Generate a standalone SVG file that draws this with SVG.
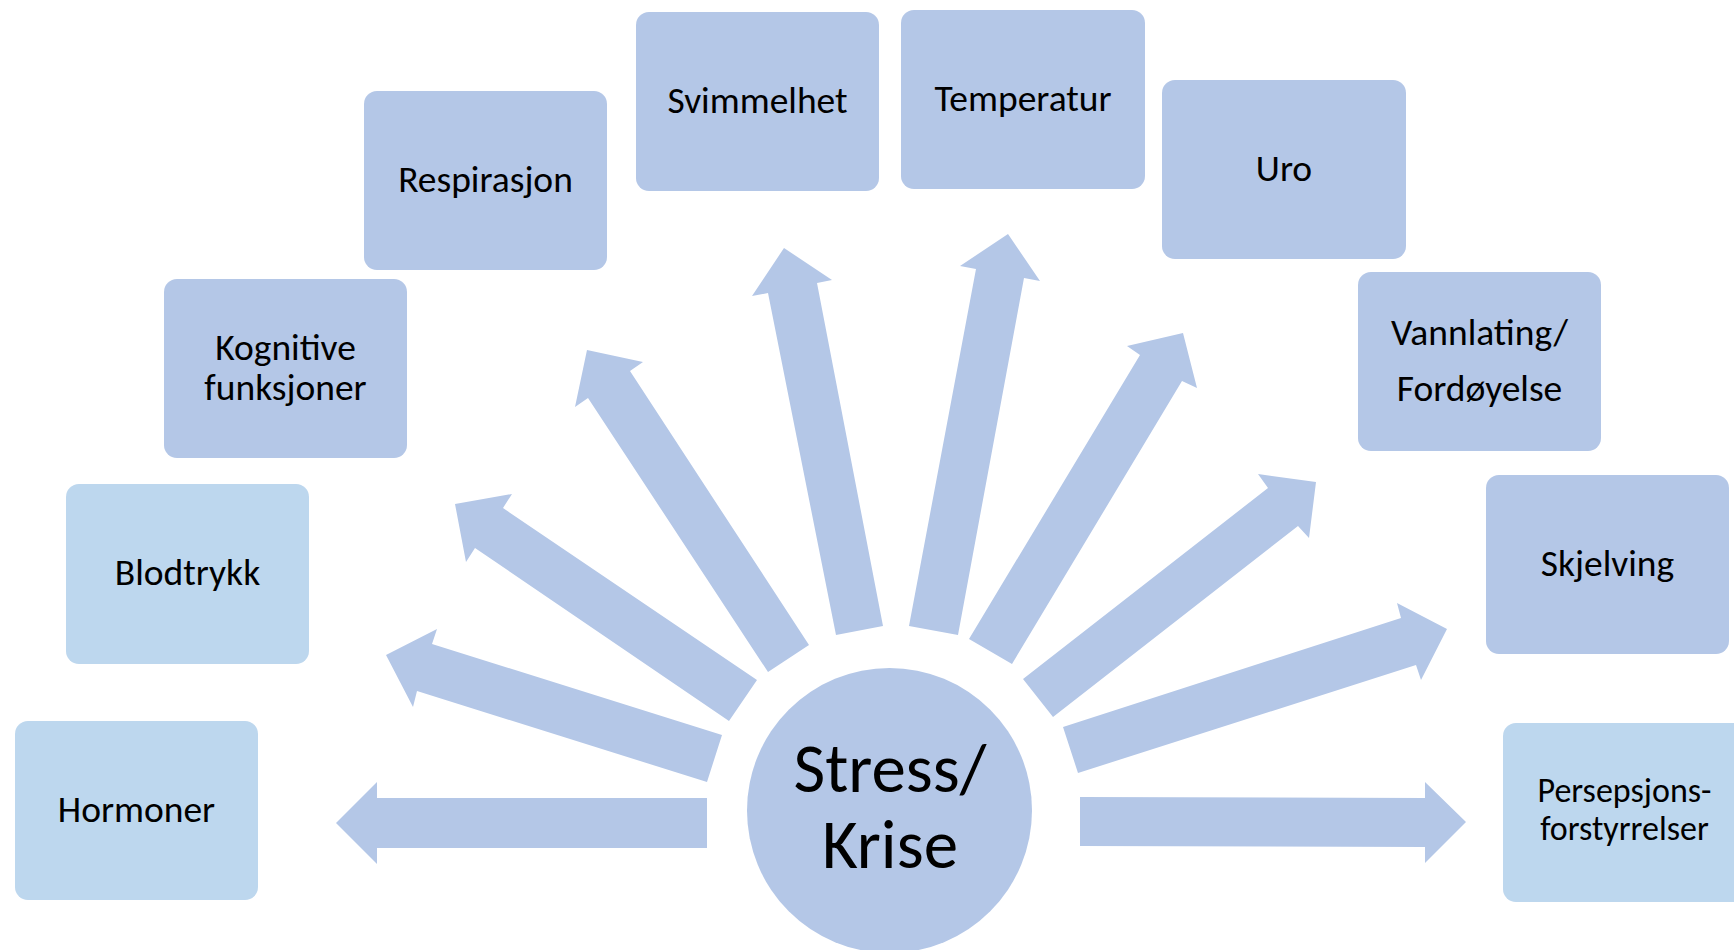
<svg xmlns="http://www.w3.org/2000/svg" width="1734" height="950" viewBox="0 0 1734 950">
<style>
  .dark { fill: #B4C7E7; }
  .light { fill: #BDD7EE; }
  .arrow { fill: #B4C7E7; }
  text { font-family: Carlito, Calibri, Lato, "Open Sans", sans-serif; fill: #000; text-anchor: middle; }
  .lbl { font-size: 37.5px; }
  .small { font-size: 34px; }
  .big { font-size: 69px; }
</style>
<rect width="1734" height="950" fill="#FFFFFF"/>
<g id="connectors">
  <polygon class="arrow" points="707,798 377,798 377,782 336,823 377,864 377,848 707,848"/>
  <polygon class="arrow" points="722,735 432,644 437,629 386,655 413,707 417,691 707,782"/>
  <polygon class="arrow" points="757,680 503,508 512,494 455,504 466,562 475,548 729,721"/>
  <polygon class="arrow" points="809,645 630,371 643,362 587,350 575,407 588,398 768,672"/>
  <polygon class="arrow" points="883,626 817,283 832,280 784,248 752,296 768,293 836,635"/>
  <polygon class="arrow" points="909,626 976,269 960,266 1008,234 1040,281 1024,278 958,635"/>
  <polygon class="arrow" points="969,639 1140,355 1127,346 1183,333 1197,388 1182,381 1012,664"/>
  <polygon class="arrow" points="1023,679 1268,488 1258,474 1316,482 1309,538 1298,526 1053,717"/>
  <polygon class="arrow" points="1063,727 1401,618 1397,603 1447,629 1421,680 1416,665 1078,773"/>
  <polygon class="arrow" points="1080,797 1425,798 1425,782 1466,822 1425,863 1425,847 1080,846"/>
</g>
<g id="center">
  <circle class="dark" cx="889.5" cy="810.5" r="142.5"/>
  <text class="big" x="890" y="792">Stress/</text>
  <text class="big" x="890" y="868">Krise</text>
</g>
<g id="hormoner">
  <rect class="light" x="15" y="721" width="243" height="179" rx="13"/>
  <text class="lbl" x="136.5" y="822">Hormoner</text>
</g>
<g id="blodtrykk">
  <rect class="light" x="66" y="484" width="243" height="180" rx="13"/>
  <text class="lbl" x="187.5" y="585">Blodtrykk</text>
</g>
<g id="kognitive">
  <rect class="dark" x="164" y="279" width="243" height="179" rx="13"/>
  <text class="lbl" x="285.5" y="360">Kognitive</text>
  <text class="lbl" x="285.5" y="400">funksjoner</text>
</g>
<g id="respirasjon">
  <rect class="dark" x="364" y="91" width="243" height="179" rx="13"/>
  <text class="lbl" x="485.5" y="192">Respirasjon</text>
</g>
<g id="svimmelhet">
  <rect class="dark" x="636" y="12" width="243" height="179" rx="13"/>
  <text class="lbl" x="757.5" y="113">Svimmelhet</text>
</g>
<g id="temperatur">
  <rect class="dark" x="901" y="10" width="244" height="179" rx="13"/>
  <text class="lbl" x="1023" y="111">Temperatur</text>
</g>
<g id="uro">
  <rect class="dark" x="1162" y="80" width="244" height="179" rx="13"/>
  <text class="lbl" x="1284" y="181">Uro</text>
</g>
<g id="vannlating">
  <rect class="dark" x="1358" y="272" width="243" height="179" rx="13"/>
  <text class="lbl" x="1479.5" y="345">Vannlating/</text>
  <text class="lbl" x="1479.5" y="401">Fordøyelse</text>
</g>
<g id="skjelving">
  <rect class="dark" x="1486" y="475" width="243" height="179" rx="13"/>
  <text class="lbl" x="1607.5" y="576">Skjelving</text>
</g>
<g id="persepsjons">
  <rect class="light" x="1503" y="723" width="243" height="179" rx="13"/>
  <text class="small" x="1624.5" y="802">Persepsjons-</text>
  <text class="small" x="1624.5" y="840">forstyrrelser</text>
</g>
</svg>
